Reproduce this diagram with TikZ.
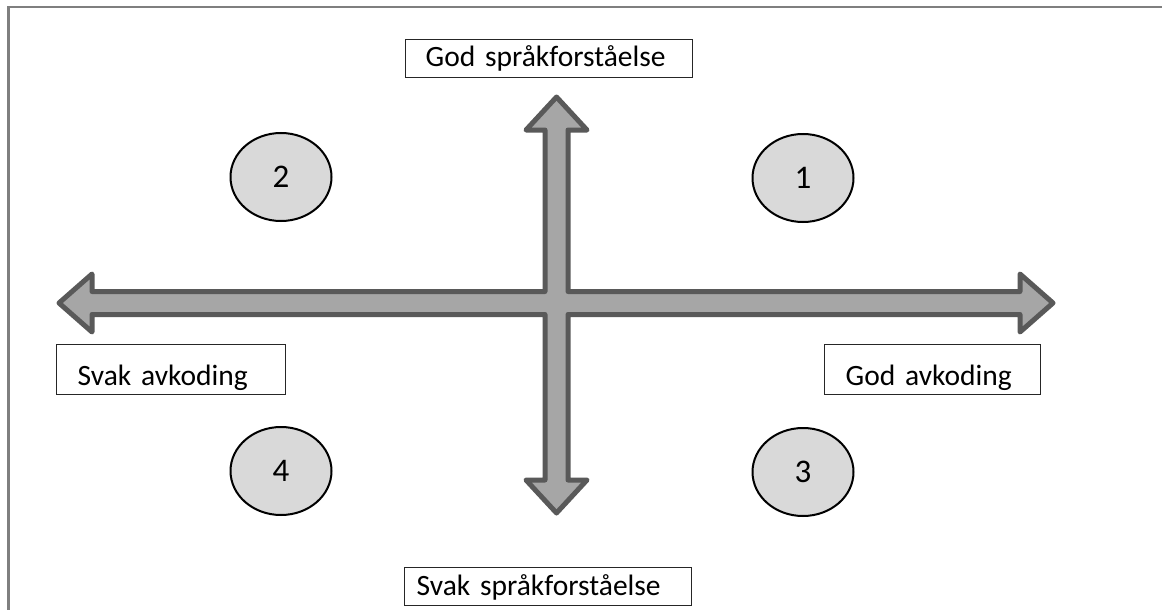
\documentclass[tikz,border=0pt]{standalone}
\usepackage{fontspec}
\setmainfont{Carlito}[WordSpace=0.7]
\usetikzlibrary{shapes.geometric}
\definecolor{framegray}{HTML}{7F7F7F}
\definecolor{arrowedge}{HTML}{595959}
\definecolor{arrowfill}{HTML}{A6A6A6}
\definecolor{ovalfill}{HTML}{D9D9D9}
\begin{document}
\begin{tikzpicture}[x=1pt,y=-1pt,
  labelbox/.style={draw=black!85, line width=1.3pt, fill=white, anchor=north west,
    inner ysep=0pt, align=left, font=\fontsize{29.5}{34}\selectfont},
  oval/.style={ellipse, draw=black, line width=2pt, fill=ovalfill,
    minimum width=101pt, minimum height=88pt, inner sep=0pt,
    font=\fontsize{33}{38}\selectfont},
  crossarrow/.style={draw=arrowedge, fill=arrowfill, line width=5pt, line join=round}]
\useasboundingbox (0,0) rectangle (1162,610);
% frame
\draw[framegray, line width=2.3pt] (8.5,615) -- (8.5,7.2) -- (1170,7.2);
% cross of double arrows
\draw[crossarrow]
  (59,303) -- (92,274) -- (92,291.5) -- (545,291.5) -- (545,130) -- (526,130)
  -- (556.5,97) -- (587,130) -- (568,130) -- (568,291.5) -- (1020,291.5)
  -- (1020,274) -- (1053,303) -- (1020,332) -- (1020,314.5) -- (568,314.5)
  -- (568,480) -- (587,480) -- (556.5,513) -- (526,480) -- (545,480)
  -- (545,314.5) -- (92,314.5) -- (92,332) -- cycle;
% label boxes
\node[labelbox, inner xsep=20pt, text width=247pt, text height=27pt, text depth=11pt]
  (top) at (405,39) {\mbox{God språkforståelse}};
\node[labelbox, inner xsep=21pt, text width=187pt, text height=41pt, text depth=9pt]
  (left) at (56,344) {\mbox{Svak avkoding}};
\node[labelbox, inner xsep=21pt, text width=174pt, text height=41pt, text depth=9pt]
  (right) at (824,344) {\mbox{God avkoding}};
\node[labelbox, inner xsep=12pt, text width=263pt, text height=28pt, text depth=10pt]
  (bottom) at (404,567) {\mbox{Svak språkforståelse}};
% quadrant ovals
\node[oval] (q2) at (281,177) {2};
\node[oval] (q1) at (803,178) {1};
\node[oval] (q4) at (281,471) {4};
\node[oval] (q3) at (803,472) {3};
\end{tikzpicture}
\end{document}
